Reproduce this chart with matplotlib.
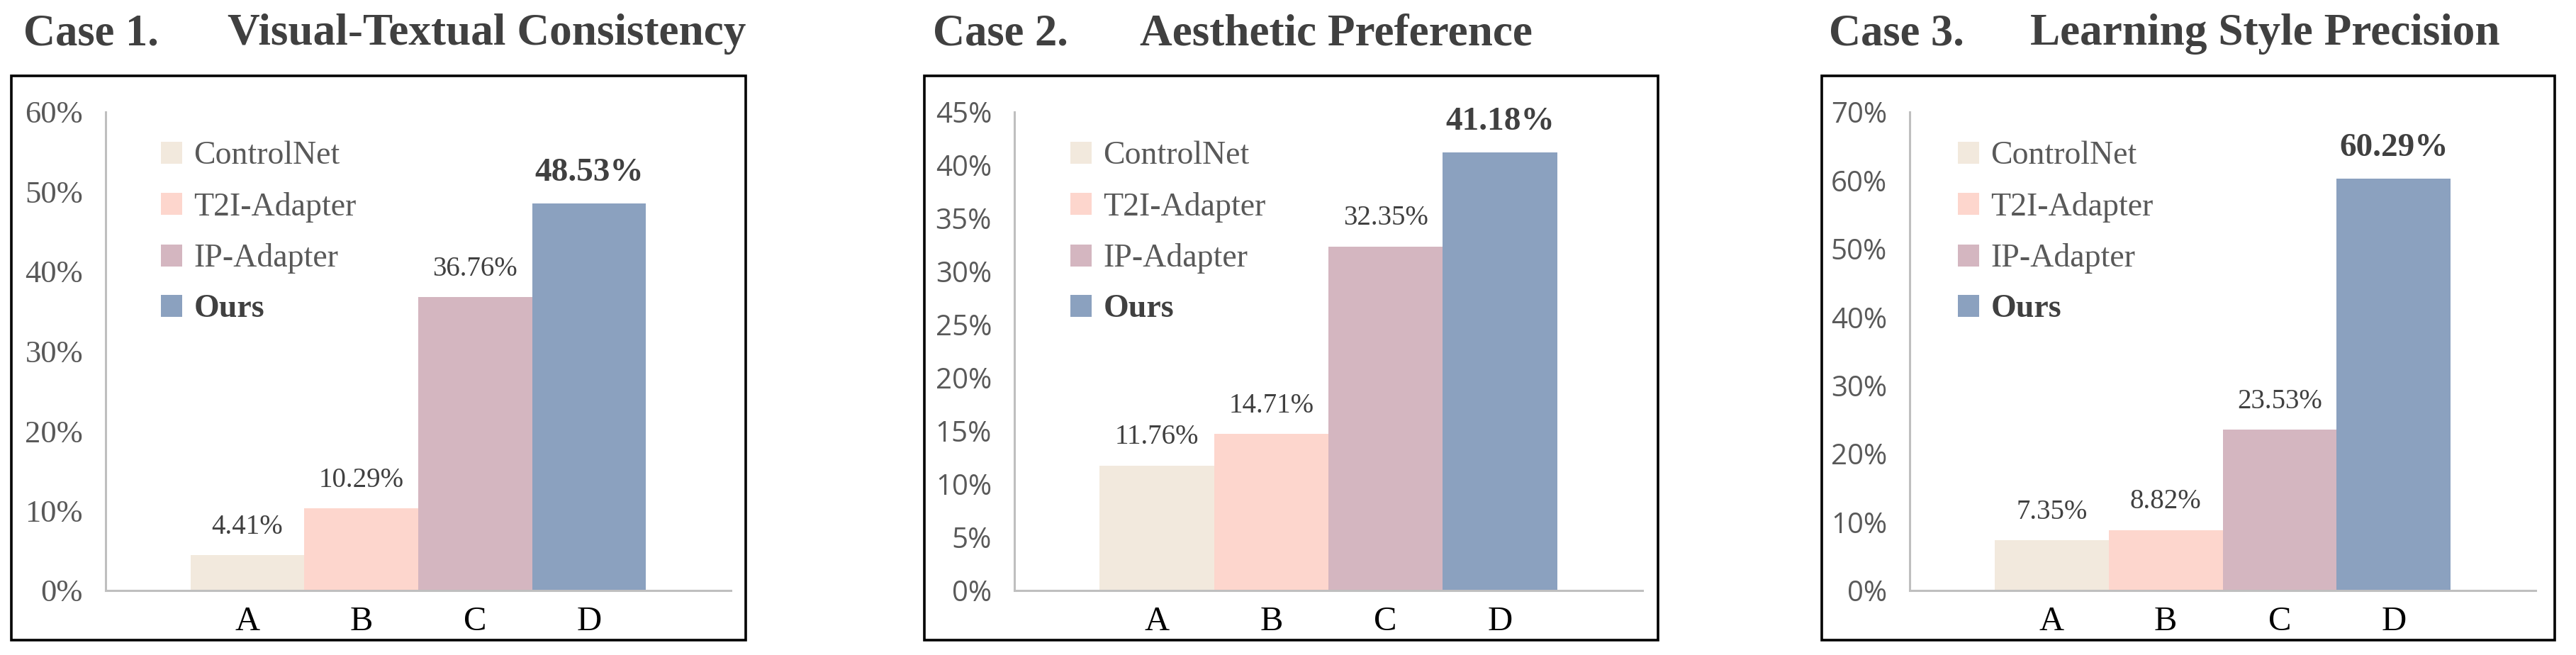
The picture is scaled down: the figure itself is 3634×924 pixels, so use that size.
import matplotlib
matplotlib.use("Agg")
import matplotlib.pyplot as plt
from matplotlib.patches import Rectangle, Patch

# ---------------- data ----------------
categories = ["A", "B", "C", "D"]
methods = ["ControlNet", "T2I-Adapter", "IP-Adapter", "Ours"]
case_numbers = ["Case 1.", "Case 2.", "Case 3."]
case_titles = ["Visual-Textual Consistency", "Aesthetic Preference", "Learning Style Precision"]
case1_values = [4.41, 10.29, 36.76, 48.53]
case2_values = [11.76, 14.71, 32.35, 41.18]
case3_values = [7.35, 8.82, 23.53, 60.29]
case1_yticks = [0, 10, 20, 30, 40, 50, 60]
case2_yticks = [0, 5, 10, 15, 20, 25, 30, 35, 40, 45]
case3_yticks = [0, 10, 20, 30, 40, 50, 60, 70]

colors = ["#F2E9DD", "#FDD6CD", "#D4B6C0", "#8BA1BF"]

W, H = 3634, 924
fig = plt.figure(figsize=(W / 100, H / 100), dpi=100)

SERIF = "Liberation Serif"
SANS = "Open Sans"

# layout (pixels)
panels = [
    dict(ax=(149, 1031), box=(16, 1052), t1=33, t2=321, tickfont=SERIF, leg=78),
    dict(ax=(1431, 2317), box=(1304, 2339), t1=1316, t2=1608, tickfont=SANS, leg=79),
    dict(ax=(2694, 3577), box=(2570, 3604), t1=2580, t2=2864, tickfont=SANS, leg=68),
]
AX_TOP, AX_BOT = 158, 833
BOX_TOP, BOX_BOT = 107, 903
TITLE_BASE = 63

values_all = [case1_values, case2_values, case3_values]
yticks_all = [case1_yticks, case2_yticks, case3_yticks]

for i, p in enumerate(panels):
    x0, x1 = p["ax"]
    ax = fig.add_axes([x0 / W, (H - AX_BOT) / H, (x1 - x0) / W, (AX_BOT - AX_TOP) / H])
    vals = values_all[i]
    yt = yticks_all[i]
    xs = list(range(len(categories)))
    ax.bar(xs, vals, width=1.0, color=colors, edgecolor="none", zorder=2)
    ax.set_xlim(-1.245, 4.245)
    ax.set_ylim(yt[0], yt[-1])
    ax.set_yticks(yt)
    ax.set_yticklabels([f"{v}%" for v in yt])
    ax.set_xticks(xs)
    ax.set_xticklabels(categories)
    for s in ["top", "right"]:
        ax.spines[s].set_visible(False)
    for s in ["left", "bottom"]:
        ax.spines[s].set_color("#BFBFBF")
        ax.spines[s].set_linewidth(2.2)
    ax.tick_params(axis="both", length=0)
    ax.tick_params(axis="y", pad=23)
    ax.tick_params(axis="x", pad=16)
    for lab in ax.get_yticklabels():
        lab.set_fontfamily(p["tickfont"])
        lab.set_fontsize(32 if p["tickfont"] == SERIF else 29)
        lab.set_color("#595959")
    for lab in ax.get_xticklabels():
        lab.set_fontfamily(SERIF)
        lab.set_fontsize(35)
        lab.set_color("#000000")
    # value labels
    for j, v in enumerate(vals):
        bold = j == len(vals) - 1
        ax.annotate(f"{v:.2f}%", xy=(xs[j], v), xytext=(0, 23 if bold else 22),
                    textcoords="offset points", ha="center", va="baseline",
                    fontfamily=SERIF, fontsize=34 if bold else 28,
                    fontweight="bold" if bold else "normal", color="#404040")
    # legend
    handles = [Patch(facecolor=c, edgecolor="none") for c in colors]
    leg = ax.legend(handles, methods, loc="upper left",
                    bbox_to_anchor=(p["leg"] / (x1 - x0), 1 - (199 - AX_TOP) / (AX_BOT - AX_TOP)),
                    frameon=False, borderpad=0, borderaxespad=0,
                    handlelength=0.66, handleheight=0.66, handletextpad=0.35,
                    labelspacing=0.64, prop={"family": SERIF, "size": 33})
    for k, t in enumerate(leg.get_texts()):
        t.set_color("#595959")
        if k == len(methods) - 1:
            t.set_fontweight("bold")
            t.set_color("#404040")
    # panel box
    bx0, bx1 = p["box"]
    fig.patches.append(Rectangle((bx0 / W, (H - BOX_BOT) / H), (bx1 - bx0) / W, (BOX_BOT - BOX_TOP) / H,
                                 transform=fig.transFigure, fill=False, edgecolor="black",
                                 linewidth=2.6, zorder=5))
    # title
    fig.text(p["t1"] / W, (H - TITLE_BASE) / H, case_numbers[i], fontfamily=SERIF,
             fontsize=45, fontweight="bold", color="#404040", va="baseline", ha="left")
    fig.text(p["t2"] / W, (H - TITLE_BASE) / H, case_titles[i], fontfamily=SERIF,
             fontsize=45.5, fontweight="bold", color="#404040", va="baseline", ha="left")

fig.savefig("out.png", dpi=100, facecolor="white")
